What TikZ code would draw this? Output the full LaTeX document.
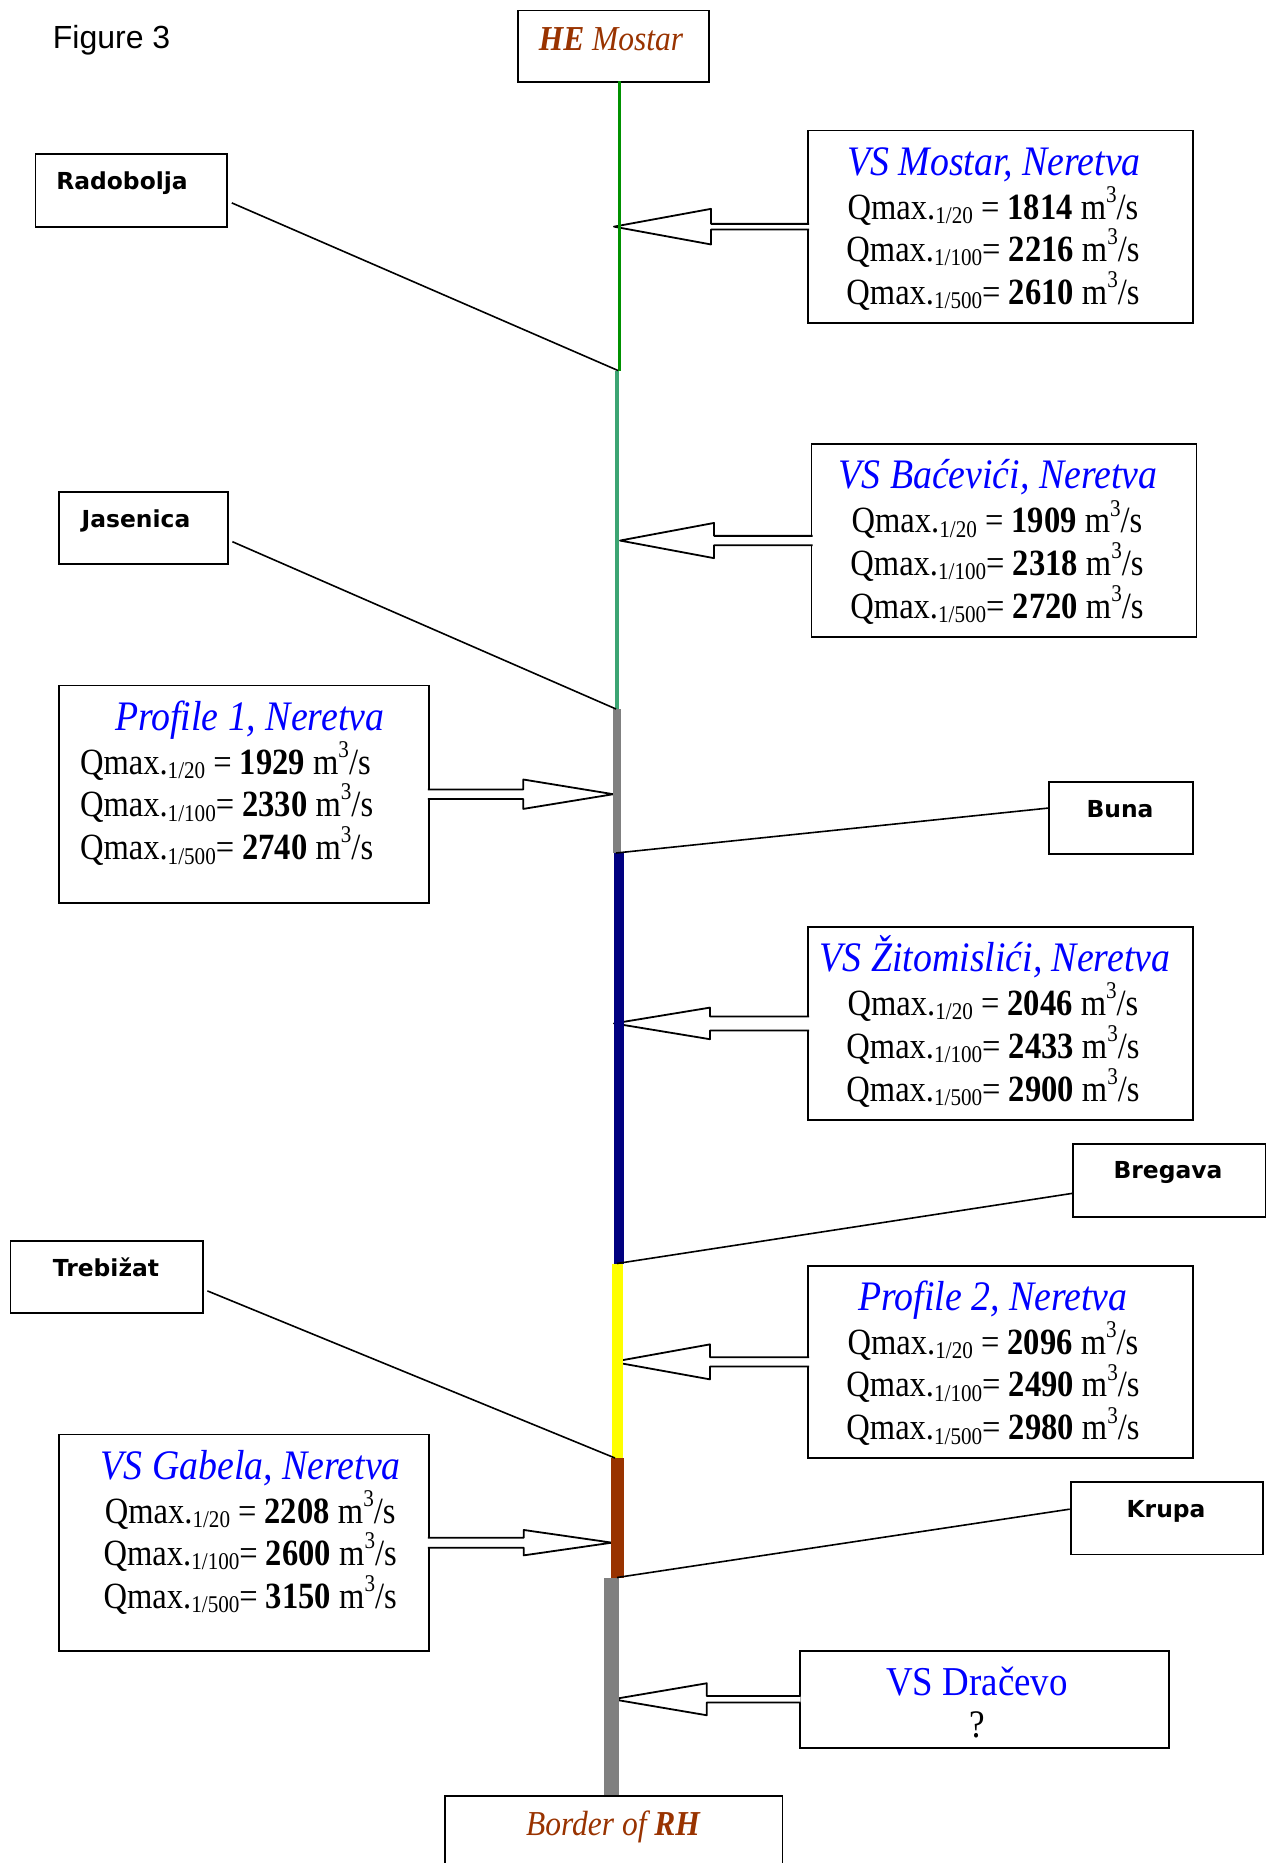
\documentclass[tikz,border=0pt]{standalone}
\usepackage{fontspec}
\usetikzlibrary{calc}

% Fonts: condensed Times-like serif for the gauge data, bold sans for tributary names
\newfontfamily\tnr[FakeStretch=0.9]{Liberation Serif}
\newfontfamily\tnrb[FakeStretch=0.88]{Liberation Serif}
\newfontfamily\lblfont{DejaVu Sans}
\newfontfamily\capfont{Liberation Sans}

\newcommand\qfont{\tnrb\fontsize{18.5pt}{21.5pt}\selectfont}
\newcommand\tfont{\tnr\itshape\fontsize{21pt}{24pt}\selectfont}
\newcommand\termfont{\tnr\itshape\fontsize{17.5pt}{20pt}\selectfont}

% Sub- and superscripts of the discharge lines
\newcommand\sbs[1]{\raisebox{-0.12em}{\fontsize{12pt}{12pt}\selectfont #1}}
\newcommand\sps[1]{\raisebox{0.45em}{\fontsize{12pt}{12pt}\selectfont #1}}
\newcommand\qv[3]{Qmax.\sbs{#1}#2\textbf{#3} m\sps{3}/s}

\definecolor{rivgreen}{RGB}{0,145,0}
\definecolor{rivteal}{RGB}{60,165,115}
\definecolor{rivgray}{RGB}{128,128,128}
\definecolor{rivnavy}{RGB}{0,0,128}
\definecolor{rivyellow}{RGB}{255,255,0}
\definecolor{rivbrown}{RGB}{153,51,0}
\definecolor{ttlblue}{RGB}{0,0,255}

% Hollow block arrow: #1 box anchor, #2 tip, #3 head length (signed),
% #4 head half height, #5 shaft half height, #6 overlap into the box
\newcommand\blockarrow[6]{%
  \path[blk] ($(#1)+(#6,-#5)$) -- ($(#2)+(#3,-#5)$) -- ($(#2)+(#3,-#4)$)
    -- (#2) -- ($(#2)+(#3,#4)$) -- ($(#2)+(#3,#5)$) -- ($(#1)+(#6,#5)$);}

\begin{document}
\begin{tikzpicture}[x=0.5pt, y=-0.5pt,
  box/.style={draw, line width=0.9pt, fill=white, inner sep=0pt, anchor=north west},
  lbl/.style={anchor=base, inner sep=0pt, font=\lblfont\bfseries\fontsize{11.7pt}{14pt}\selectfont},
  qln/.style={anchor=base, inner sep=0pt, font=\qfont},
  qlnw/.style={anchor=base west, inner sep=0pt, font=\qfont},
  ttl/.style={anchor=base, inner sep=0pt, font=\tfont, text=ttlblue},
  trib/.style={line width=0.8pt},
  blk/.style={draw=black, fill=white, line width=0.9pt, line join=round},
  riv/.style={line cap=butt}]

\useasboundingbox (0,0) rectangle (1267,1863);
\clip (0,0) rectangle (1267,1863);
\fill[white] (0,0) rectangle (1267,1863);

% ---- boxes ----
\node[box, minimum width=95.5pt,  minimum height=35.75pt] (he)    at (517,9.5) {};
\node[box, minimum width=95.75pt, minimum height=36.5pt]  (rad)   at (34.5,153) {};
\node[box, minimum width=192.5pt, minimum height=96.25pt] (vsm)   at (807,129.5) {};
\node[box, minimum width=192.5pt, minimum height=96.35pt] (bac)   at (810.5,443.3) {};
\node[box, minimum width=84.5pt,  minimum height=36pt]    (jas)   at (58,491) {};
\node[box, minimum width=185pt,   minimum height=108.7pt] (pr1)   at (58,684.6) {};
\node[box, minimum width=72pt,    minimum height=36.2pt]  (buna)  at (1048,781) {};
\node[box, minimum width=192.5pt, minimum height=96.5pt]  (zit)   at (807,926) {};
\node[box, minimum width=96.25pt, minimum height=36.2pt]  (breg)  at (1072,1143.3) {};
\node[box, minimum width=96.25pt, minimum height=36pt]    (treb)  at (9.5,1240) {};
\node[box, minimum width=192.5pt, minimum height=96.25pt] (pr2)   at (807,1264.7) {};
\node[box, minimum width=185pt,   minimum height=108.25pt](gab)   at (58,1433.5) {};
\node[box, minimum width=96.25pt, minimum height=36.25pt] (krupa) at (1069.7,1481) {};
\node[box, minimum width=184.85pt,minimum height=48.35pt] (dra)   at (798.7,1650) {};
\node[box, minimum width=168.75pt,minimum height=40pt]    (border) at (444,1795) {};

% ---- arrow tips on the river ----
\coordinate (tip1) at (614,0 |- vsm.west);
\coordinate (tip2) at (620,0 |- bac.west);
\coordinate (tip3) at (613.3,0 |- pr1.east);
\coordinate (tip4) at (614,0 |- zit.west);
\coordinate (tip5) at (613,0 |- pr2.west);
\coordinate (tip6) at (612,0 |- gab.east);
\coordinate (tip7) at (612.8,0 |- dra.west);

\blockarrow{vsm.west}{tip1}{97}{17.8}{2.8}{2}
\blockarrow{bac.west}{tip2}{94}{17.6}{4.7}{2}
\blockarrow{pr1.east}{tip3}{-90}{14.7}{4.8}{-2}
\blockarrow{zit.west}{tip4}{96}{15.8}{7}{2}
\blockarrow{pr2.west}{tip5}{97}{17.5}{4.7}{2}
\blockarrow{gab.east}{tip6}{-88.3}{12.7}{5}{-2}
\blockarrow{dra.west}{tip7}{94}{16}{3.3}{2}

% ---- the Neretva, widening downstream ----
\coordinate (j1) at (618,370.5);
\coordinate (j2) at (616,709);
\coordinate (j3) at (616,853);
\coordinate (j4) at (617,1263.5);
\coordinate (j5) at (615,1458);
\coordinate (j6) at (617,1577.5);

\draw[riv, rivgreen,  line width=1.5pt]  (619,81)     -- (619,371);
\draw[riv, rivteal,   line width=2.25pt] (617,371)    -- (617,709);
\draw[riv, rivgray,   line width=3.75pt] (617,709)    -- (617,853);
\draw[riv, rivnavy,   line width=5.25pt] (619,853)    -- (619,1263.5);
\draw[riv, rivyellow, line width=5.5pt]  (617.5,1263.5) -- (617.5,1458);
\draw[riv, rivbrown,  line width=6.5pt]  (617.5,1458) -- (617.5,1577.5);
\draw[riv, rivgray,   line width=7.5pt]  (611.5,1577.5) -- (611.5,1795);

% ---- tributaries ----
\draw[trib] ($(rad.east)+(4,12.5)$)  -- (j1);
\draw[trib] ($(jas.east)+(3.6,13.8)$) -- (j2);
\draw[trib] ($(buna.west)+(0,-10)$)  -- (j3);
\draw[trib] ($(breg.west)+(0,13)$)   -- (j4);
\draw[trib] ($(treb.east)+(3.6,14)$) -- (j5);
\draw[trib] ($(krupa.west)+(0,-9)$)  -- (j6);

% ---- texts ----
\node[anchor=base west, inner sep=0pt, font=\capfont\fontsize{16pt}{19pt}\selectfont] (fig) at (52.5,48.5) {Figure 3};
\node[anchor=base, inner sep=0pt, font=\termfont, text=rivbrown] (he-t) at (611,50) {\textbf{HE} Mostar};
\node[anchor=base, inner sep=0pt, font=\termfont, text=rivbrown] (border-t) at (613,1835) {Border of \textbf{RH}};

\node[lbl] (rad-t)   at (122,189)   {Radobolja};
\node[lbl] (jas-t)   at (136,527)   {Jasenica};
\node[lbl] (buna-t)  at (1120,817)  {Buna};
\node[lbl] (breg-t)  at (1168,1178) {Bregava};
\node[lbl] (treb-t)  at (106,1276)  {Trebižat};
\node[lbl] (krupa-t) at (1166,1517) {Krupa};

% VS Mostar
\node[ttl] (vsm-t)  at (994,175)   {VS Mostar, Neretva};
\node[qln] (vsm-1)  at (993,219)   {\qv{1/20}{ = }{1814}};
\node[qln] (vsm-2)  at (993,261.5) {\qv{1/100}{= }{2216}};
\node[qln] (vsm-3)  at (993,304.5) {\qv{1/500}{= }{2610}};

% VS Baćevići
\node[ttl] (bac-t)  at (998,488.8) {VS Baćevići, Neretva};
\node[qln] (bac-1)  at (997,532.8) {\qv{1/20}{ = }{1909}};
\node[qln] (bac-2)  at (997,575.3) {\qv{1/100}{= }{2318}};
\node[qln] (bac-3)  at (997,618.3) {\qv{1/500}{= }{2720}};

% Profile 1
\node[ttl]  (pr1-t) at (249.6,730.1) {Profile 1, Neretva};
\node[qlnw] (pr1-1) at (79.6,774.1)  {\qv{1/20}{ = }{1929}};
\node[qlnw] (pr1-2) at (79.6,816.6)  {\qv{1/100}{= }{2330}};
\node[qlnw] (pr1-3) at (79.6,859.6)  {\qv{1/500}{= }{2740}};

% VS Žitomislići
\node[ttl] (zit-t)  at (995,971.5) {VS Žitomislići, Neretva};
\node[qln] (zit-1)  at (993,1015.5) {\qv{1/20}{ = }{2046}};
\node[qln] (zit-2)  at (993,1058)   {\qv{1/100}{= }{2433}};
\node[qln] (zit-3)  at (993,1101)   {\qv{1/500}{= }{2900}};

% Profile 2
\node[ttl] (pr2-t)  at (993,1310.2) {Profile 2, Neretva};
\node[qln] (pr2-1)  at (993,1354.2) {\qv{1/20}{ = }{2096}};
\node[qln] (pr2-2)  at (993,1396.7) {\qv{1/100}{= }{2490}};
\node[qln] (pr2-3)  at (993,1439.7) {\qv{1/500}{= }{2980}};

% VS Gabela
\node[ttl] (gab-t)  at (250.8,1479)   {VS Gabela, Neretva};
\node[qln] (gab-1)  at (250.2,1523)   {\qv{1/20}{ = }{2208}};
\node[qln] (gab-2)  at (250.2,1565.5) {\qv{1/100}{= }{2600}};
\node[qln] (gab-3)  at (250.2,1608.5) {\qv{1/500}{= }{3150}};

% VS Dračevo
\node[ttl, font=\tnr\fontsize{20.5pt}{24pt}\selectfont] (dra-t) at (977,1695) {VS Dračevo};
\node[qln, font=\tnr\fontsize{19.5pt}{24pt}\selectfont] (dra-q) at (977,1737) {?};
\end{tikzpicture}
\end{document}
